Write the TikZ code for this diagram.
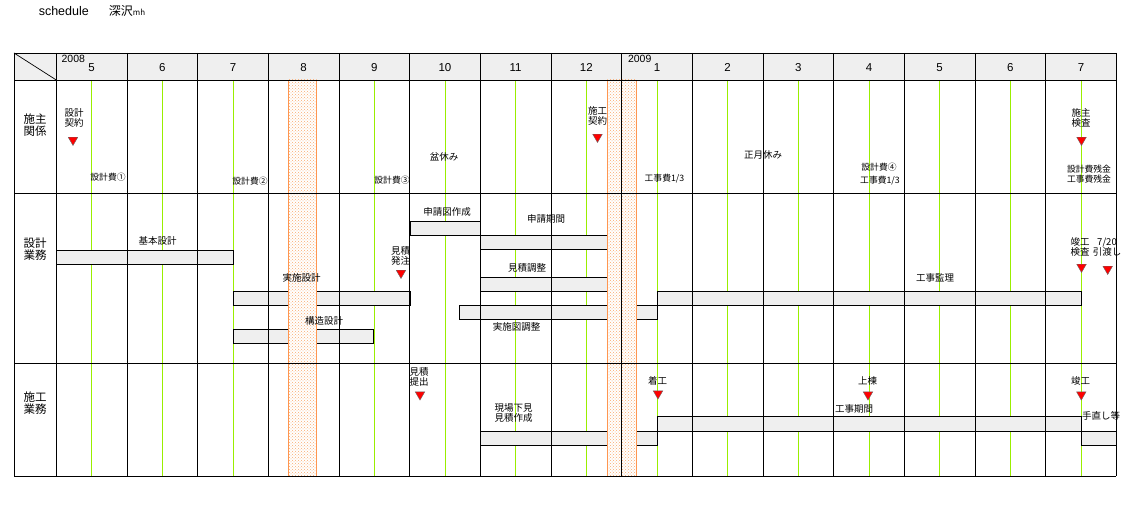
\documentclass[tikz,border=0pt]{standalone}
\usepackage{fontspec}
\setmainfont{Liberation Sans}
\newfontfamily\jp{Noto Sans CJK JP}
\usetikzlibrary{positioning,patterns,shapes.geometric}
\definecolor{barfill}{RGB}{239,239,239}
\definecolor{midline}{RGB}{153,238,0}
\definecolor{bandline}{RGB}{255,150,80}
\definecolor{banddot}{RGB}{250,170,110}
\tikzset{
  lbl/.style={font=\jp\fontsize{9.5}{10}\selectfont,inner sep=0pt,align=center},
  fee/.style={font=\jp\fontsize{8.8}{10}\selectfont,inner sep=0pt,align=center},
  rowhead/.style={font=\jp\fontsize{11.5}{12.5}\selectfont,inner sep=0pt,align=center},
  month/.style={font=\fontsize{11.5}{12}\selectfont,inner sep=0pt,anchor=base},
  year/.style={font=\fontsize{10.5}{11}\selectfont,inner sep=0pt,anchor=base},
  tri/.style={regular polygon,regular polygon sides=3,shape border rotate=180,
    minimum size=11pt,inner sep=0pt,fill=red,draw=black!60,line width=.4pt},
  bar/.style={fill=barfill,draw=black,line width=.9pt},
  frame/.style={draw=black,line width=.9pt},
}
\begin{document}
\begin{tikzpicture}[x=1pt,y=-1pt]
\useasboundingbox (0,0) rectangle (1130,510);
\node[font=\fontsize{12.5}{13}\selectfont,inner sep=0pt] (title) at (63.8,11) {schedule};
\node[font=\jp\fontsize{12}{13}\selectfont,inner sep=0pt] (who) at (127,11) {深沢{\fontsize{8}{8}\selectfont mh}};

\fill[barfill] (14,53) rectangle (1116.3,80);

% months
\foreach \m [count=\i from 0] in {5,6,7,8,9,10,11,12,1,2,3,4,5,6,7} {
  \pgfmathsetmacro\cx{56.3+(\i+0.5)*70.67}
  \draw[midline,line width=.9pt] (\cx,80) -- (\cx,476.3);
  \node[month] (m\i) at (\cx,71.5) {\m};
}
\node[year] (y08) at (73.3,62.3) {2008};
\node[year] (y09) at (639.7,62.3) {2009};

% bars
\draw[bar] (56.3,250.3) rectangle (233,264.3);     % kihon
\draw[bar] (233,291.3) rectangle (410.3,305.3);    % jisshi
\draw[bar] (233,329.3) rectangle (373.3,343.3);    % kozo
\draw[bar] (410.3,221.3) rectangle (480.3,235.3);  % shinsei-zu
\draw[bar] (480.3,235.3) rectangle (607.3,249.3);  % shinsei kikan
\draw[bar] (480.3,277.3) rectangle (607.3,291.3);  % mitsumori chosei
\draw[bar] (459.3,305.3) rectangle (657.3,319.3);  % jisshi-zu chosei
\draw[bar] (657.3,291.3) rectangle (1081,305.3);   % kanri
\draw[bar] (480.3,431) rectangle (657.3,445.3);    % shitami
\draw[bar] (657.3,416.3) rectangle (1081.7,431);   % koji kikan
\draw[bar] (1081.7,431) rectangle (1116.3,445.3);  % tenaoshi

% holidays
\foreach \a/\b in {288.3/316.7,607.3/636.7} {
  \fill[white] (\a,80) rectangle (\b,476.3);
  \fill[pattern=crosshatch dots,pattern color=banddot] (\a,80) rectangle (\b,476.3);
  \draw[bandline,line width=1pt] (\a,80) -- (\a,476.3) (\b,80) -- (\b,476.3);
}

% table
\foreach \y in {53,80,193.3,363.3,476.3} \draw[frame] (14,\y) -- (1116.3,\y);
\draw[frame] (14,53) -- (14,476.3);
\foreach \k in {0,...,15} \draw[frame] ({56.3+\k*70.67},53) -- ({56.3+\k*70.67},476.3);
\coordinate (TL) at (14,53); \coordinate (HB) at (56.3,80);
\draw[frame,line width=.7pt] (TL) -- (HB);

\node[rowhead] (r1) at (35,125) {施主\\関係};
\node[rowhead] (r2) at (35,249) {設計\\業務};
\node[rowhead] (r3) at (35,403) {施工\\業務};

% owner
\node[lbl] (e1) at (74,117.5) {設計\\契約};
\node[tri] (t1) at (73,140) {};
\node[fee] (f1) at (108,177) {設計費①};
\node[fee] (f2) at (250,181) {設計費②};
\node[fee] (f3) at (392,180) {設計費③};
\node[lbl] (h1) at (444,157) {盆休み};
\node[lbl] (e2) at (597.5,116) {施工\\契約};
\node[tri] (t2) at (597.5,137) {};
\node[fee] (f4) at (664.5,179) {工事費1/3};
\node[lbl] (h2) at (763,155) {正月休み};
\node[fee] (f5) at (879,167) {設計費④};
\node[fee] (f6) at (880,181) {工事費1/3};
\node[lbl] (e3) at (1081,118) {施主\\検査};
\node[tri] (t3) at (1081.5,140) {};
\node[fee] (f7) at (1089,174) {設計費残金\\工事費残金};

% design
\node[lbl] (b1) at (157.5,241) {基本設計};
\node[lbl] (b2) at (301.7,278) {実施設計};
\node[lbl] (b3) at (324,321) {構造設計};
\node[lbl] (e4) at (400.5,256) {見積\\発注};
\node[tri] (t4) at (401,273) {};
\node[lbl] (b4) at (447,212) {申請図作成};
\node[lbl] (b5) at (546,219) {申請期間};
\node[lbl] (b6) at (527,268) {見積調整};
\node[lbl] (b7) at (516.7,327) {実施図調整};
\node[lbl] (b8) at (935,278) {工事監理};
\node[lbl] (e5) at (1080,246.7) {竣工\\検査};
\node[tri] (t5) at (1081.5,267) {};
\node[lbl] (e6) at (1107,246.7) {7/20\\引渡し};
\node[tri] (t6) at (1107.7,269) {};

% construction
\node[lbl] (e7) at (419,377) {見積\\提出};
\node[tri] (t7) at (420,394.6) {};
\node[lbl] (b9) at (513.7,413.3) {現場下見\\見積作成};
\node[lbl] (e8) at (657.5,380.7) {着工};
\node[tri] (t8) at (658,393.6) {};
\node[lbl] (e9) at (867.5,381) {上棟};
\node[tri] (t9) at (868,394.6) {};
\node[lbl] (b10) at (854,409) {工事期間};
\node[lbl] (e10) at (1080.5,381) {竣工};
\node[tri] (t10) at (1081.3,394.6) {};
\node[lbl] (b11) at (1101,415.7) {手直し等};
\end{tikzpicture}
\end{document}
